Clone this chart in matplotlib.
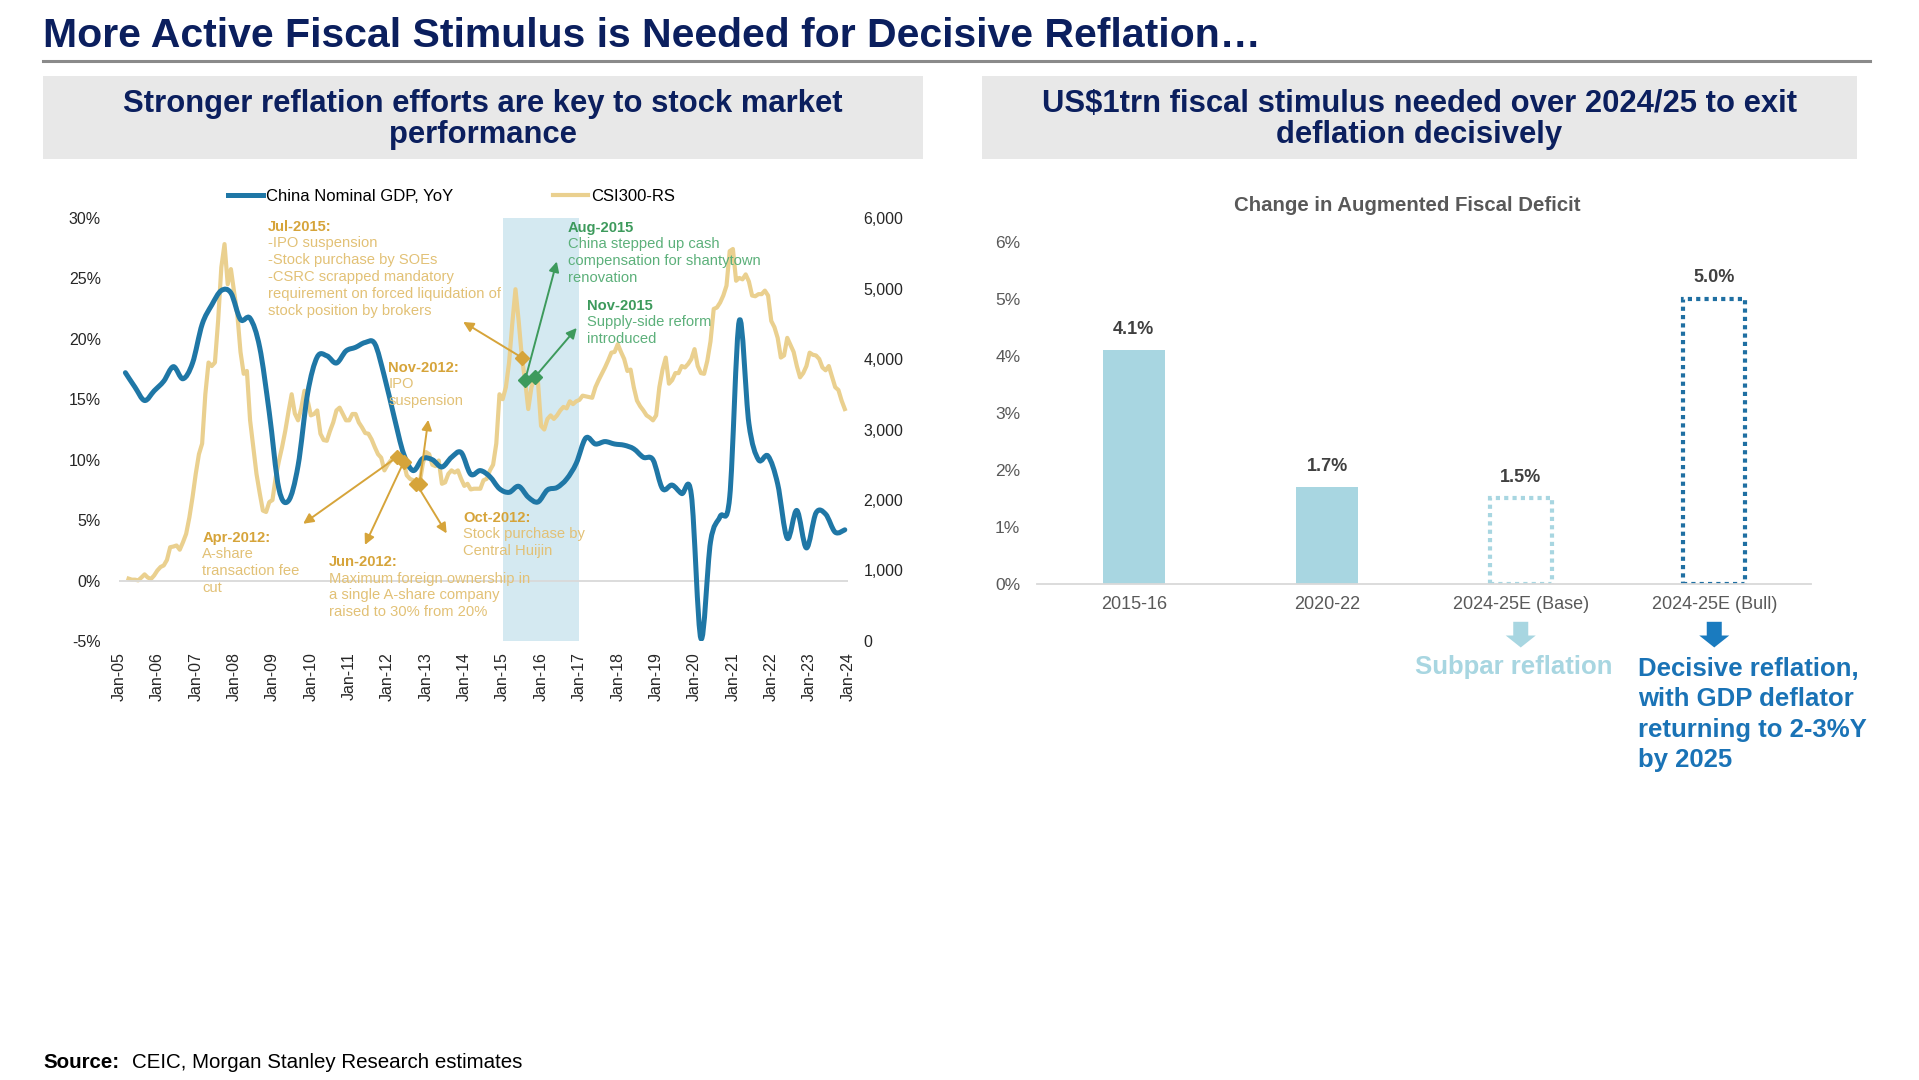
import numpy as np
import pandas as pd
import matplotlib
matplotlib.use('Agg')
import matplotlib.pyplot as plt
from matplotlib.patches import Rectangle, PathPatch
from matplotlib.lines import Line2D
from matplotlib.path import Path

plt.rcParams['font.family'] = ['Liberation Sans', 'DejaVu Sans']

# ---------------- data: left chart ----------------
# China nominal GDP YoY (%), quarterly, first point Mar-05
gdp_start = 2005 + 2 / 12
gdp_yoy = [
    17.2, 16.0, 14.9, 15.7,    # 2005
    16.5, 17.7, 16.7, 18.0,    # 2006
    21.2, 22.8, 24.0, 23.8,    # 2007
    21.6, 21.7, 19.3, 13.9,    # 2008
    7.6, 6.6, 9.5, 15.5,       # 2009
    18.5, 18.6, 18.0, 19.0,    # 2010
    19.3, 19.7, 19.6, 16.9,    # 2011
    13.6, 10.5, 9.1, 10.1,     # 2012
    10.0, 9.4, 10.2, 10.6,     # 2013
    8.8, 9.1, 8.6, 7.6,        # 2014
    7.3, 7.8, 6.9, 6.5,        # 2015
    7.5, 7.7, 8.4, 9.7,        # 2016
    11.8, 11.3, 11.5, 11.3,    # 2017
    11.2, 10.9, 10.2, 10.0,    # 2018
    7.6, 7.9, 7.2, 7.1,        # 2019
    -4.8, 3.2, 5.3, 6.9,       # 2020
    21.5, 13.0, 10.0, 10.3,    # 2021
    8.0, 3.5, 5.8, 2.7,        # 2022
    5.6, 5.5, 4.0, 4.2,        # 2023
]

# CSI300 index level (right scale), monthly, first point Apr-05
csi_start = 2005 + 3 / 12
csi300 = [
    885, 870, 870, 860, 900, 945, 900, 880, 930,                           # 2005
    1000, 1050, 1072, 1150, 1330, 1340, 1355, 1295, 1400, 1520, 1750, 2040,  # 2006
    2370, 2650, 2800, 3500, 3950, 3900, 3950, 4540, 5300, 5630, 5060, 5275,  # 2007
    4950, 4640, 4100, 3790, 3830, 3130, 2750, 2370, 2100, 1850, 1830, 1970,  # 2008
    2000, 2320, 2550, 2750, 2980, 3250, 3500, 3225, 3130, 3300, 3550, 3410,  # 2009
    3200, 3220, 3270, 2940, 2850, 2840, 2980, 3100, 3270, 3310, 3220, 3130,  # 2010
    3130, 3220, 3220, 3100, 3030, 2950, 2940, 2860, 2750, 2650, 2600, 2420,  # 2011
    2500, 2560, 2600, 2610, 2580, 2535, 2350, 2300, 2280, 2230, 2230, 2510,  # 2012
    2680, 2650, 2500, 2480, 2560, 2230, 2250, 2370, 2420, 2390, 2420, 2300,  # 2013
    2200, 2230, 2150, 2160, 2160, 2160, 2280, 2300, 2420, 2500, 2800, 3500,  # 2014
    3430, 3600, 3950, 4500, 4990, 4540, 4020, 3700, 3290, 3600, 3740, 3700,  # 2015
    3050, 3000, 3150, 3200, 3150, 3200, 3270, 3320, 3300, 3400, 3360, 3400,  # 2016
    3420, 3480, 3470, 3460, 3450, 3600, 3700, 3790, 3880, 3980, 4090, 4100,  # 2017
    4210, 4100, 4000, 3830, 3850, 3600, 3410, 3330, 3270, 3200, 3170, 3130,  # 2018
    3200, 3600, 3850, 4020, 3650, 3700, 3800, 3800, 3900, 3880, 3930, 4000,  # 2019
    4140, 3900, 3800, 3790, 3975, 4250, 4710, 4730, 4800, 4900, 5040, 5530,  # 2020
    5560, 5110, 5150, 5130, 5200, 5100, 4900, 4890, 4920, 4920, 4970, 4900,  # 2021
    4540, 4450, 4300, 4020, 4050, 4300, 4200, 4100, 3900, 3740, 3800, 3900,  # 2022
    4090, 4060, 4050, 4000, 3880, 3840, 3900, 3750, 3600, 3560, 3410, 3290,  # 2023
]

year_ticks = list(range(2005, 2025))
year_labels = ['Jan-%02d' % (y % 100) for y in year_ticks]
pct_ticks = [-5, 0, 5, 10, 15, 20, 25, 30]
idx_ticks = [0, 1000, 2000, 3000, 4000, 5000, 6000]
shade_span = (2015, 2017)

# policy events: (title, body, month of event, text x, text y, arrow tip x, arrow tip y, kind)
events = [
    ('Apr-2012:', 'A-share\ntransaction fee\ncut', 2012 + 3 / 12, 2007.17, 3.5, 2009.8, 4.7, 'gold'),
    ('Jun-2012:', 'Maximum foreign ownership in\na single A-share company\nraised to 30% from 20%',
     2012 + 5 / 12, 2010.48, 1.5, 2011.41, 2.95, 'gold'),
    ('Oct-2012:', 'Stock purchase by\nCentral Huijin', 2012 + 9 / 12, 2013.97, 5.2, 2013.54, 3.9, 'gold'),
    ('Nov-2012:', 'IPO\nsuspension', 2012 + 10 / 12, 2012.02, 17.6, 2013.06, 13.3, 'gold'),
    ('Jul-2015:', '-IPO suspension\n-Stock purchase by SOEs\n-CSRC scrapped mandatory\n'
     'requirement on forced liquidation of\nstock position by brokers',
     2015 + 6 / 12, 2008.89, 29.25, 2013.97, 21.4, 'gold'),
    ('Aug-2015', 'China stepped up cash\ncompensation for shantytown\nrenovation',
     2015 + 7 / 12, 2016.69, 29.2, 2016.41, 26.4, 'green'),
    ('Nov-2015', 'Supply-side reform\nintroduced', 2015 + 10 / 12, 2017.19, 22.7, 2016.93, 20.9, 'green'),
]

# ---------------- data: right chart ----------------
periods = ['2015-16', '2020-22', '2024-25E (Base)', '2024-25E (Bull)']
deficit_chg = [4.1, 1.7, 1.5, 5.0]
is_estimate = [False, False, True, True]

# ---------------- styling ----------------
W, H = 1919, 1080
NAVY = '#0b1f5e'
GDP_BLUE = '#1f77a6'
CSI_TAN = '#ead08f'
GOLD_T = '#d6a43a'
GOLD_B = '#e2c176'
GREEN_T = '#3d9a5c'
GREEN_B = '#5cb07a'
BAR_LIGHT = '#a8d6e1'
BAR_DARK = '#1f6fa2'
SHADE = '#d4e9f1'


def fx(px):
    return px / W


def fy(py):
    return 1 - py / H


def smooth_path(x, y):
    # smoothed line through the points (Catmull-Rom drawn as Bezier segments)
    pts = np.column_stack([x, y])
    ext = np.vstack([pts[0], pts, pts[-1]])
    verts = [pts[0]]
    codes = [Path.MOVETO]
    for i in range(1, len(ext) - 2):
        p0, p1, p2, p3 = ext[i - 1], ext[i], ext[i + 1], ext[i + 2]
        verts += [p1 + (p2 - p0) / 6, p2 - (p3 - p1) / 6, p2]
        codes += [Path.CURVE4] * 3
    return Path(verts, codes)


fig = plt.figure(figsize=(W / 100, H / 100), dpi=100)

# headline, rule, section boxes
fig.text(fx(43), fy(36), 'More Active Fiscal Stimulus is Needed for Decisive Reflation\u2026',
         fontsize=29.5, fontweight='bold', color=NAVY, va='center', ha='left')
fig.add_artist(Line2D([fx(43), fx(1870)], [fy(61), fy(61)], color='#8a8a8a', lw=2.2))
for x0, x1, txt in [(43, 923, 'Stronger reflation efforts are key to stock market\nperformance'),
                    (982, 1857, 'US$1trn fiscal stimulus needed over 2024/25 to exit\ndeflation decisively')]:
    fig.add_artist(Rectangle((fx(x0), fy(159)), fx(x1 - x0), (159 - 76) / H,
                             facecolor='#e8e8e8', edgecolor='none'))
    fig.text(fx((x0 + x1) / 2), fy(119.5), txt, fontsize=22.3, fontweight='bold', color=NAVY,
             ha='center', va='center', multialignment='center', linespacing=1.08)

# ---------------- left chart ----------------
ax_r = fig.add_axes([fx(119), fy(641), fx(848 - 119), (641 - 218) / H])
ax = ax_r.twinx()
ax.yaxis.tick_left()
ax_r.yaxis.tick_right()
ax.set_zorder(ax_r.get_zorder() + 1)
ax.patch.set_visible(False)

gdp_t = gdp_start + np.arange(len(gdp_yoy)) / 4
csi_t = csi_start + np.arange(len(csi300)) / 12

ax_r.axvspan(*shade_span, color=SHADE, lw=0, zorder=0)
ax_r.plot(csi_t, csi300, color=CSI_TAN, lw=3, zorder=2)
ax.axhline(0, color='#d9d9d9', lw=1.3, zorder=1)
ax.add_patch(PathPatch(smooth_path(gdp_t, gdp_yoy), fill=False, edgecolor=GDP_BLUE,
                       lw=3.6, capstyle='round', joinstyle='round', zorder=3))

ax.set_xlim(2005, 2024)
ax.set_ylim(-5, 30)
ax_r.set_ylim(0, 6000)
ax_r.set_xlim(2005, 2024)
ax.set_yticks(pct_ticks)
ax.set_yticklabels(['%d%%' % v for v in pct_ticks])
ax_r.set_yticks(idx_ticks)
ax_r.set_yticklabels(['{:,}'.format(v) for v in idx_ticks])
ax_r.set_xticks(year_ticks)
ax_r.set_xticklabels(year_labels, rotation=90)
for a in (ax, ax_r):
    for s in a.spines.values():
        s.set_visible(False)
ax.tick_params(axis='y', length=0, pad=13, labelsize=11.5, labelcolor='#262626')
ax_r.tick_params(axis='y', length=0, pad=11, labelsize=11.5, labelcolor='#262626')
ax_r.tick_params(axis='x', length=0, pad=8, labelsize=11.5, labelcolor='#262626')


def idx_to_pct(v):
    return v / 6000 * 35 - 5


for title, body, t_ev, tx, ty, ax_x, ax_y, kind in events:
    ct = GOLD_T if kind == 'gold' else GREEN_T
    cb = GOLD_B if kind == 'gold' else GREEN_B
    i = int(round((t_ev - csi_start) * 12))
    px, py = csi_t[i], idx_to_pct(csi300[i])
    ax.annotate('', xy=(ax_x, ax_y), xytext=(px, py),
                arrowprops=dict(arrowstyle='-|>', color=ct, lw=1.4, mutation_scale=15,
                                shrinkA=2, shrinkB=0), zorder=4)
    ax.plot(px, py, marker='D', ms=7, color=ct, mec=ct, zorder=5)
    ax.text(tx, ty, title, fontsize=10.6, fontweight='bold', color=ct, ha='left', va='center')
    ax.text(tx, ty - 0.75, body, fontsize=10.6, color=cb, ha='left', va='top', linespacing=1.27)

handles = [Line2D([], [], color=GDP_BLUE, lw=3.6), Line2D([], [], color=CSI_TAN, lw=3)]
ax.legend(handles, ['China Nominal GDP, YoY', 'CSI300-RS'], loc='center', ncol=2,
          bbox_to_anchor=(0.456, 1.052), frameon=False, fontsize=12, handlelength=2.1,
          handletextpad=0.2, columnspacing=6.0)

# ---------------- right chart ----------------
bx = fig.add_axes([fx(1037), fy(583.6), fx(1811 - 1037), (583.6 - 241.5) / H])
pos = np.arange(len(periods))
for p, v, est in zip(pos, deficit_chg, is_estimate):
    if not est:
        bx.bar(p, v, width=0.32, color=BAR_LIGHT, edgecolor='none')
    else:
        ec = BAR_LIGHT if p == 2 else BAR_DARK
        bx.bar(p, v, width=0.32, fill=False, edgecolor=ec, lw=3, linestyle=(0, (1, 1)))
    bx.text(p, v + 0.36, '%.1f%%' % v, ha='center', va='center', fontsize=13,
            fontweight='bold', color='#404040')
bx.set_xlim(-0.5, 3.5)
bx.set_ylim(0, 6)
bx.set_yticks(range(0, 7))
bx.set_yticklabels(['%d%%' % v for v in range(0, 7)])
bx.set_xticks(pos)
bx.set_xticklabels(periods)
for s in ['top', 'right', 'left']:
    bx.spines[s].set_visible(False)
bx.spines['bottom'].set_color('#d9d9d9')
bx.spines['bottom'].set_linewidth(1.3)
bx.tick_params(axis='y', length=0, pad=12, labelsize=12.5, labelcolor='#595959')
bx.tick_params(axis='x', length=0, pad=9, labelsize=13, labelcolor='#595959')

fig.text(fx(1407), fy(205), 'Change in Augmented Fiscal Deficit', fontsize=14.7,
         fontweight='bold', color='#595959', ha='center', va='center')

# block arrows and verdicts below the estimate bars
for p, c in [(2, BAR_LIGHT), (3, '#1a7bbf')]:
    bx.annotate('', xy=(p, -1.12), xytext=(p, -0.67), xycoords='data',
                arrowprops=dict(arrowstyle='simple,head_length=0.43,head_width=1.08,tail_width=0.54',
                                mutation_scale=20, color=c, lw=0, shrinkA=0, shrinkB=0),
                annotation_clip=False)
fig.text(fx(1514), fy(667), 'Subpar reflation', fontsize=18.5, fontweight='bold',
         color=BAR_LIGHT, ha='center', va='center')
fig.text(fx(1638), fy(657), 'Decisive reflation,\nwith GDP deflator\nreturning to 2-3%Y\nby 2025',
         fontsize=18.5, fontweight='bold', color='#1a73b6', ha='left', va='top', linespacing=1.34)

# source
fig.text(fx(43), fy(1062), 'Source:', fontsize=14.8, fontweight='bold', color='black', va='center')
fig.text(fx(132), fy(1062), 'CEIC, Morgan Stanley Research estimates', fontsize=14.8,
         color='black', va='center')

fig.savefig('out.png', dpi=100)
